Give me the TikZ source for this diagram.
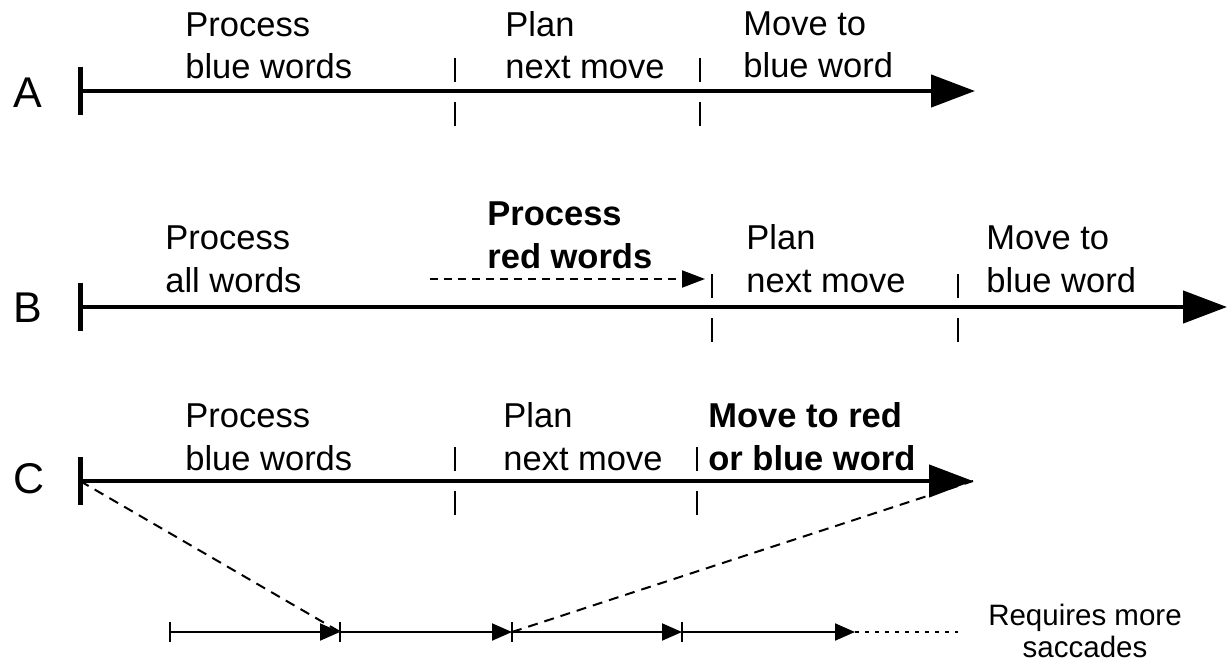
\documentclass[tikz,border=0pt]{standalone}
\usepackage{fontspec}
\setmainfont{Liberation Sans}
\usetikzlibrary{arrows.meta}

\begin{document}
\begin{tikzpicture}[x=0.5pt,y=-0.5pt,
    phase/.style={anchor=base west, align=left, inner sep=0pt, font=\fontsize{17.25}{21.25}\selectfont},
    boldphase/.style={phase, font=\fontsize{17.25}{21.25}\selectfont\bfseries},
    rowlabel/.style={anchor=base west, inner sep=0pt, font=\fontsize{21.5}{22}\selectfont},
    timeline/.style={line width=2.25pt, -{Triangle[length=22pt,width=16pt]}},
    starttick/.style={line width=2.5pt},
    midtick/.style={line width=1.2pt},
    saccade/.style={line width=1pt, -{Triangle[length=10pt,width=8.5pt]}},
    link/.style={line width=1pt, dash pattern=on 5pt off 3.5pt}]
  \useasboundingbox (0,0) rectangle (1229,663);

  % time points
  \coordinate (A0) at (80,91);
  \coordinate (A1) at (975,91);
  \coordinate (B0) at (80,307);
  \coordinate (B1) at (1227,307);
  \coordinate (C0) at (80,481);
  \coordinate (C1) at (973,481);
  \coordinate (r0) at (430,279);
  \coordinate (r1) at (705,279);
  \coordinate (s0) at (170,632);
  \coordinate (s1) at (340,632);
  \coordinate (s2) at (512,632);
  \coordinate (s3) at (682,632);
  \coordinate (s4) at (855,632);
  \coordinate (s5) at (958,632);

  % row labels
  \node (labA) [rowlabel] at (13,108) {A};
  \node (labB) [rowlabel] at (13,322) {B};
  \node (labC) [rowlabel] at (13,493) {C};

  % row A
  \node (procA) [phase] at (185,79) {Process\\blue words};
  \node (planA) [phase] at (505,79) {Plan\\next move};
  \node (moveA) [phase] at (743,78) {Move to\\blue word};

  % row B
  \node (procB) [phase] at (165,292) {Process\\all words};
  \node (redB) [boldphase] at (487,268) {Process\\red words};
  \node (planB) [phase] at (746,292) {Plan\\next move};
  \node (moveB) [phase] at (986,292) {Move to\\blue word};

  % row C
  \node (procC) [phase] at (185,470) {Process\\blue words};
  \node (planC) [phase] at (503,470) {Plan\\next move};
  \node (moveC) [boldphase] at (708,470) {Move to red\\or blue word};

  \node (more) [anchor=base, align=center, inner sep=0pt,
    font=\fontsize{14.75}{16}\selectfont] at (1085,657) {Requires more\\saccades};

  % dashed links
  \draw[link] (C0) -- (s1);
  \draw[link] (s2) -- (C1);
  \draw[line width=1pt, dash pattern=on 4pt off 3pt,
    -{Triangle[length=11.5pt,width=8.5pt]}] (r0) -- (r1);

  % timelines
  \draw[timeline] (A0) -- (A1);
  \draw[timeline] (B0) -- (B1);
  \draw[timeline] (C0) -- (C1);
  \foreach \p in {A0,B0,C0}
    \draw[starttick] ([yshift=12pt]\p) -- ([yshift=-12pt]\p);
  \foreach \x/\y in {455/91, 700/91, 712/307, 958/307, 455/480, 697/480}
    \draw[midtick] (\x,\y-33) -- (\x,\y-9) (\x,\y+11) -- (\x,\y+35);

  % saccades
  \draw[saccade] (s0) -- (s1);
  \draw[saccade] (s1) -- (s2);
  \draw[saccade] (s2) -- (s3);
  \draw[saccade] (s3) -- (s4);
  \draw[line width=1pt, dash pattern=on 2pt off 3pt] (s4) -- (s5);
  \foreach \p in {s0,s1,s2,s3}
    \draw[midtick] ([yshift=5pt]\p) -- ([yshift=-5pt]\p);
\end{tikzpicture}
\end{document}
